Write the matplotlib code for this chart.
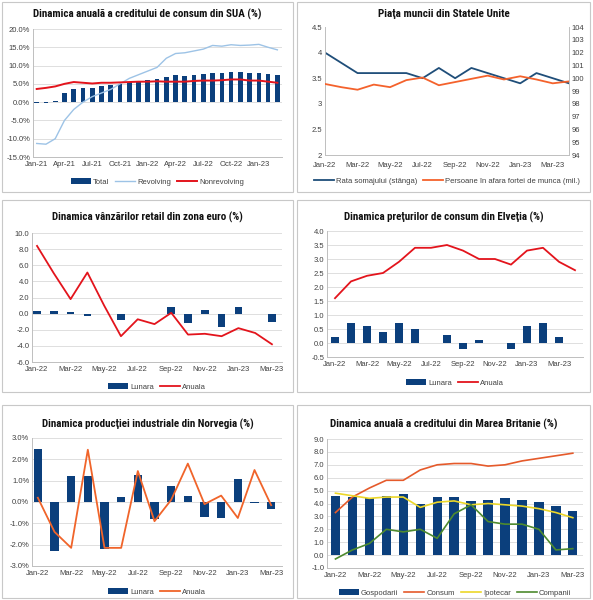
import numpy as np
import pandas as pd
import matplotlib
matplotlib.use("Agg")
import matplotlib.pyplot as plt
from matplotlib.patches import Rectangle
from matplotlib.ticker import FuncFormatter, MultipleLocator

plt.rcParams['font.family'] = ['Liberation Sans', 'DejaVu Sans']

W, H = 593, 600

# ---- data ----
months_us = list(pd.date_range("2021-01-01", periods=27, freq="MS").strftime("%b-%y"))
us_total = [-0.1, -0.1, 0.4, 2.5, 3.5, 3.9, 3.9, 4.4, 4.7, 5.0, 5.4, 5.7, 6.0, 6.4,
            7.0, 7.3, 7.1, 7.5, 7.6, 7.9, 7.9, 8.2, 8.2, 8.0, 8.0, 7.7, 7.3]
us_revolving = [-11.3, -11.5, -10.0, -5.0, -2.0, 0.0, 1.5, 2.5, 3.5, 5.0, 6.5, 7.5, 8.5,
                9.5, 12.0, 13.3, 13.5, 14.0, 14.5, 15.5, 15.3, 15.7, 15.5, 15.6, 15.8, 15.0, 14.3]
us_nonrevolving = [3.6, 3.9, 4.3, 5.0, 5.5, 5.3, 5.1, 5.3, 5.3, 5.4, 5.5, 5.6, 5.6, 5.7,
                   5.6, 5.6, 5.6, 5.8, 5.9, 5.9, 6.0, 6.2, 6.2, 5.9, 5.9, 5.6, 5.3]

months_lab = list(pd.date_range("2022-01-01", periods=16, freq="MS").strftime("%b-%y"))
unemployment = [4.0, 3.8, 3.6, 3.6, 3.6, 3.6, 3.5, 3.7, 3.5, 3.7, 3.6, 3.5, 3.4, 3.6, 3.5, 3.4]
out_of_labor = [99.55, 99.3, 99.1, 99.5, 99.3, 99.85, 100.05, 99.45, 99.7, 99.95, 100.2,
                99.9, 100.15, 99.9, 99.6, 99.75]

months_15 = list(pd.date_range("2022-01-01", periods=15, freq="MS").strftime("%b-%y"))
ez_monthly = [0.3, 0.3, 0.2, -0.3, 0.0, -0.8, -0.1, -0.05, 0.8, -1.2, 0.5, -1.6, 0.8, -0.1, -1.1]
ez_annual = [8.4, 5.0, 1.8, 5.1, 1.0, -2.8, -0.7, -1.3, 0.1, -2.6, -2.5, -2.8, -1.8, -2.4, -3.8]

months_ch = list(pd.date_range("2022-01-01", periods=16, freq="MS").strftime("%b-%y"))
ch_monthly = [0.2, 0.7, 0.6, 0.4, 0.7, 0.5, 0.0, 0.3, -0.2, 0.1, 0.0, -0.2, 0.6, 0.7, 0.2, 0.0]
ch_annual = [1.6, 2.2, 2.4, 2.5, 2.9, 3.4, 3.4, 3.5, 3.3, 3.0, 3.0, 2.8, 3.3, 3.4, 2.9, 2.6]

no_monthly = [2.5, -2.3, 1.2, 1.2, -2.2, 0.25, 1.25, -0.8, 0.75, 0.3, -0.7, -0.75, 1.1, -0.05, -0.35]
no_annual = [0.2, -1.4, -2.15, 2.45, -2.15, -2.15, 1.45, -0.9, 0.1, 1.8, -0.1, 0.3, -0.75, 1.5, -0.15]

uk_households = [4.6, 4.5, 4.4, 4.6, 4.7, 4.0, 4.5, 4.5, 4.2, 4.3, 4.4, 4.3, 4.1, 3.8, 3.4]
uk_consumer = [3.3, 4.5, 5.2, 5.8, 5.8, 6.6, 7.0, 7.1, 7.1, 6.9, 7.0, 7.3, 7.5, 7.7, 7.9]
uk_mortgage = [4.8, 4.6, 4.4, 4.5, 4.5, 3.7, 4.1, 4.2, 3.9, 4.0, 3.9, 3.8, 3.6, 3.3, 2.9]
uk_companies = [-0.3, 0.4, 0.9, 2.0, 1.8, 2.0, 1.3, 3.2, 3.9, 2.6, 2.4, 2.4, 2.0, 0.4, 0.5]

NAVY = "#0b3f7c"
GRID = "#d9d9d9"
TXT = "#404040"
TITLE_FONT = ['Roboto Condensed', 'Liberation Sans Narrow', 'Roboto', 'DejaVu Sans']

fig = plt.figure(figsize=(W / 100, H / 100), dpi=100)
renderer = fig.canvas.get_renderer()


def px_axes(x0, y0, x1, y1):
    return fig.add_axes([x0 / W, 1 - y1 / H, (x1 - x0) / W, (y1 - y0) / H])


def panel(x0, y0, x1, y1, title, ty, tw):
    fig.patches.append(Rectangle((x0 / W, 1 - y1 / H), (x1 - x0) / W, (y1 - y0) / H,
                                 transform=fig.transFigure, fill=False,
                                 edgecolor="#c8c8c8", linewidth=0.8))
    t = fig.text((x0 + x1) / 2 / W, 1 - ty / H, title, ha="center", va="center",
                 fontsize=10, fontweight="bold", family=TITLE_FONT, color="#111111")
    # shrink the title to the width it takes in the original
    w = t.get_window_extent(renderer).width
    t.set_fontsize(min(10, 10 * tw / w))


def style(ax, grid=True):
    for s in ["top", "right"]:
        ax.spines[s].set_visible(False)
    ax.spines["left"].set_color("#bfbfbf")
    ax.spines["bottom"].set_color("#bfbfbf")
    ax.spines["left"].set_linewidth(0.7)
    ax.spines["bottom"].set_linewidth(0.7)
    ax.tick_params(labelsize=5.5, colors=TXT, length=0, pad=2)
    ax.tick_params(axis="x", pad=3)
    if grid:
        ax.yaxis.grid(True, color=GRID, linewidth=0.6)
        ax.set_axisbelow(True)


def month_ticks(ax, labels, step=2):
    idx = np.arange(0, len(labels), step)
    ax.set_xticks(idx)
    ax.set_xticklabels([labels[i] for i in idx])


def legend(ax, handles, labels, y):
    fig.legend(handles, labels, loc="center", ncol=len(labels), frameon=False,
               fontsize=5.5, handlelength=2.6, columnspacing=0.8, handletextpad=0.3,
               bbox_to_anchor=(ax.get_position().x0 + ax.get_position().width / 2, 1 - y / H),
               labelcolor=TXT)


# ---- panel 1: US consumer credit ----
panel(2, 2, 293, 192, "Dinamica anuală a creditului de consum din SUA (%)", 14, 229)
ax = px_axes(33, 29, 282, 157)
x = np.arange(len(months_us))
b = ax.bar(x, us_total, width=0.5, color=NAVY)
l1, = ax.plot(x, us_revolving, color="#9dc3e6", lw=1.0)
l2, = ax.plot(x, us_nonrevolving, color="#e3141c", lw=1.4)
ax.set_ylim(-15, 20)
ax.yaxis.set_major_locator(MultipleLocator(5))
ax.yaxis.set_major_formatter(FuncFormatter(lambda v, p: f"{v:.1f}%"))
ax.set_xlim(-0.4, 26.5)
month_ticks(ax, months_us, 3)
style(ax)
legend(ax, [b, l1, l2], ["Total", "Revolving", "Nonrevolving"], 182)

# ---- panel 2: US labour market ----
panel(297, 2, 590, 192, "Piaţa muncii din Statele Unite", 14, 132)
ax = px_axes(325, 27, 569, 155)
x = np.arange(len(months_lab))
l1, = ax.plot(x, unemployment, color="#1f4e79", lw=1.3)
ax.set_ylim(2, 4.5)
ax.yaxis.set_major_locator(MultipleLocator(0.5))
ax.yaxis.set_major_formatter(FuncFormatter(lambda v, p: f"{v:g}"))
ax.set_xlim(0, 15)
month_ticks(ax, months_lab, 2)
style(ax, grid=False)
ax.tick_params(axis="x", pad=5)
ax2 = ax.twinx()
l2, = ax2.plot(x, out_of_labor, color="#f4622c", lw=1.3)
ax2.set_ylim(94, 104)
ax2.yaxis.set_major_locator(MultipleLocator(1))
for s in ["top", "left"]:
    ax2.spines[s].set_visible(False)
ax2.spines["right"].set_color("#bfbfbf")
ax2.spines["right"].set_linewidth(0.7)
ax2.spines["bottom"].set_visible(False)
ax2.tick_params(labelsize=5.5, colors=TXT, length=0, pad=2)
legend(ax, [l1, l2], ["Rata somajului (stânga)", "Persoane în afara fortei de munca (mil.)"], 181)

# ---- panel 3: euro area retail ----
panel(2, 200, 293, 392, "Dinamica vânzărilor retail din zona euro (%)", 217, 191)
ax = px_axes(32, 233, 282, 362)
x = np.arange(len(months_15))
b = ax.bar(x, ez_monthly, width=0.45, color=NAVY)
l1, = ax.plot(x, ez_annual, color="#e3141c", lw=1.3)
ax.set_ylim(-6, 10)
ax.yaxis.set_major_locator(MultipleLocator(2))
ax.yaxis.set_major_formatter(FuncFormatter(lambda v, p: f"{v:.1f}"))
ax.set_xlim(-0.3, 14.6)
month_ticks(ax, months_15, 2)
style(ax)
legend(ax, [b, l1], ["Lunara", "Anuala"], 387)

# ---- panel 4: Swiss CPI ----
panel(297, 200, 590, 392, "Dinamica preţurilor de consum din Elveţia (%)", 217, 200)
ax = px_axes(327, 231, 583, 357)
x = np.arange(len(months_ch))
b = ax.bar(x, ch_monthly, width=0.5, color=NAVY)
l1, = ax.plot(x, ch_annual, color="#e3141c", lw=1.3)
ax.set_ylim(-0.5, 4.0)
ax.yaxis.set_major_locator(MultipleLocator(0.5))
ax.yaxis.set_major_formatter(FuncFormatter(lambda v, p: f"{v:.1f}"))
ax.set_xlim(-0.5, 15.5)
month_ticks(ax, months_ch, 2)
style(ax)
legend(ax, [b, l1], ["Lunara", "Anuala"], 383)

# ---- panel 5: Norway industrial production ----
panel(2, 405, 293, 598, "Dinamica producţiei industriale din Norvegia (%)", 424, 212)
ax = px_axes(32, 438, 282, 566)
x = np.arange(len(months_15))
b = ax.bar(x, no_monthly, width=0.5, color=NAVY)
l1, = ax.plot(x, no_annual, color="#f0642a", lw=1.3)
ax.set_ylim(-3, 3)
ax.yaxis.set_major_locator(MultipleLocator(1))
ax.yaxis.set_major_formatter(FuncFormatter(lambda v, p: f"{v:.1f}%"))
ax.set_xlim(-0.35, 14.65)
month_ticks(ax, months_15, 2)
style(ax)
legend(ax, [b, l1], ["Lunara", "Anuala"], 592)

# ---- panel 6: UK credit ----
panel(297, 405, 590, 598, "Dinamica anuală a creditului din Marea Britanie (%)", 424, 227)
ax = px_axes(327, 439, 583, 568)
x = np.arange(len(months_15))
b = ax.bar(x, uk_households, width=0.55, color=NAVY)
l1, = ax.plot(x, uk_consumer, color="#e55a2b", lw=1.2)
l2, = ax.plot(x, uk_mortgage, color="#ecd729", lw=1.2)
l3, = ax.plot(x, uk_companies, color="#4e8a2e", lw=1.2)
ax.set_ylim(-1, 9)
ax.yaxis.set_major_locator(MultipleLocator(1))
ax.yaxis.set_major_formatter(FuncFormatter(lambda v, p: f"{v:.1f}"))
ax.set_xlim(-0.5, 14.6)
month_ticks(ax, months_15, 2)
style(ax)
legend(ax, [b, l1, l2, l3], ["Gospodarii", "Consum", "Ipotecar", "Companii"], 593)

fig.savefig("out.png", dpi=100)
